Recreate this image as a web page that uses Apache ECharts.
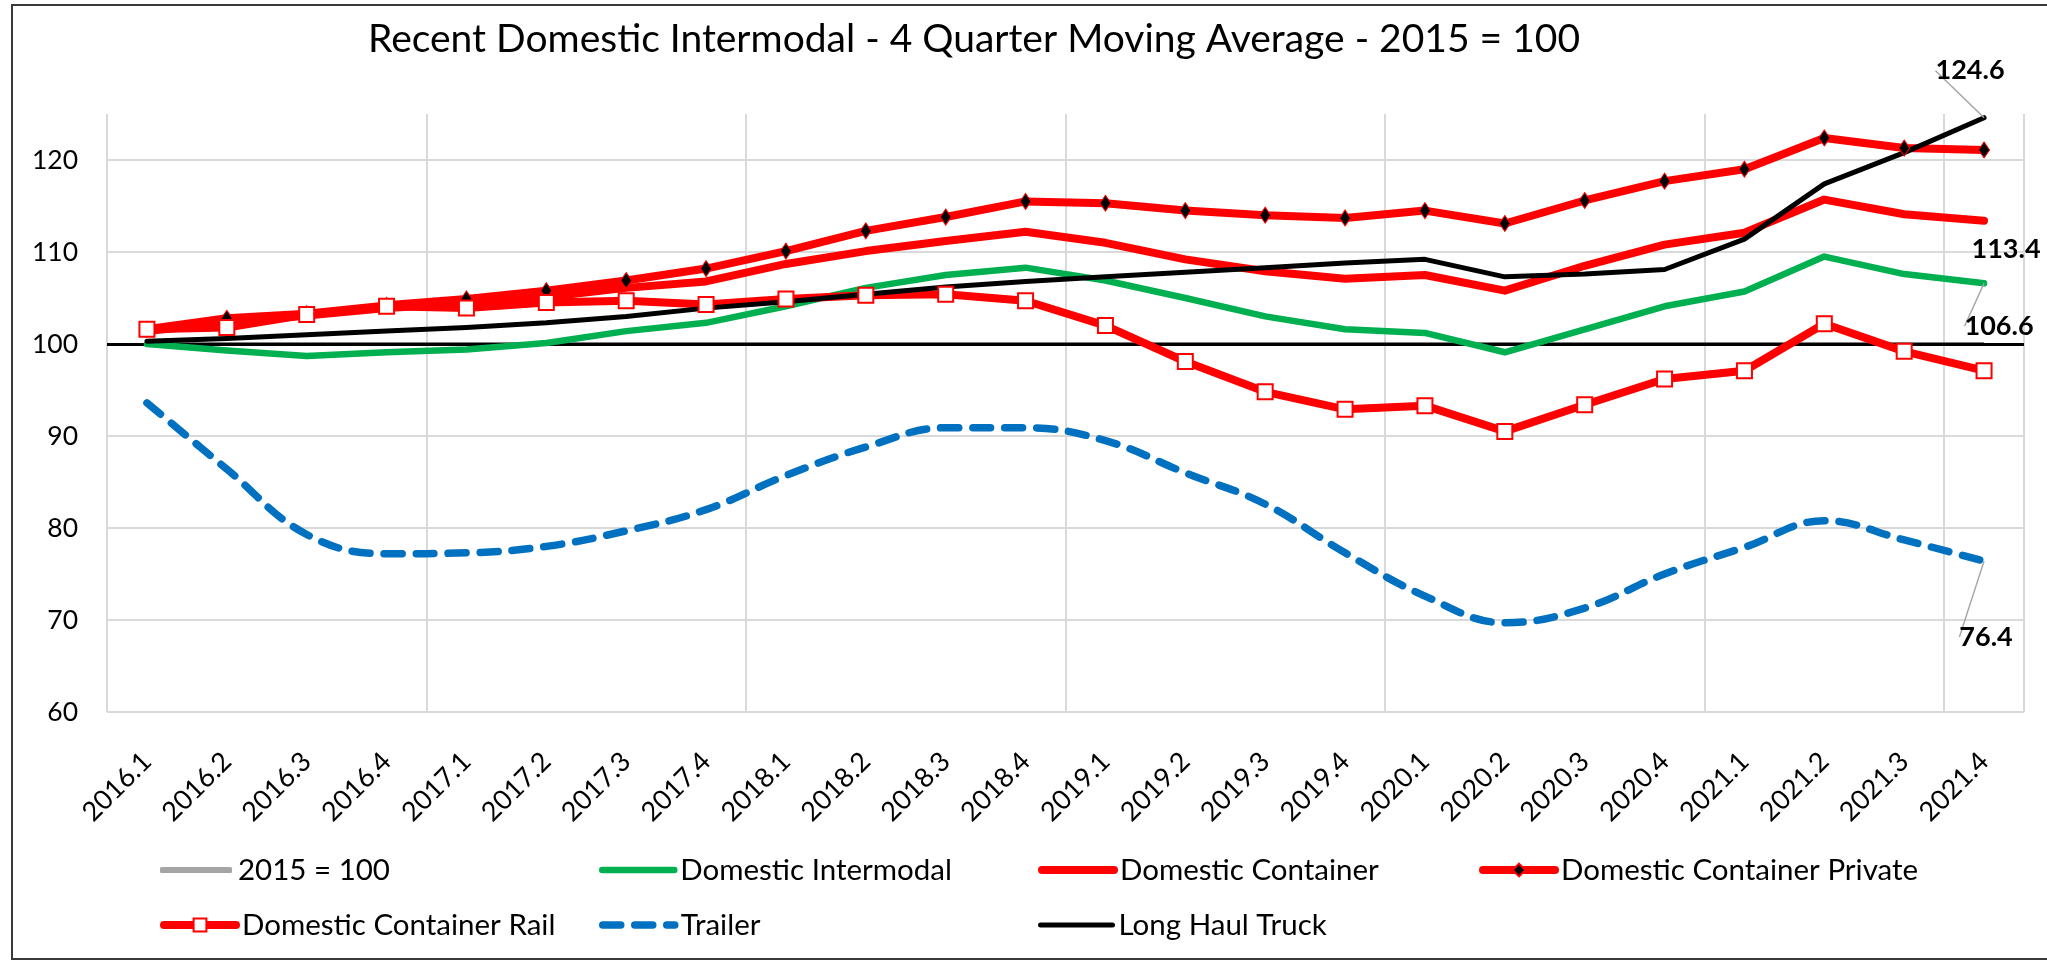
<!DOCTYPE html>
<html>
<head>
<meta charset="UTF-8">
<title>Recent Domestic Intermodal</title>
<script src="https://cdn.jsdelivr.net/npm/echarts@6/dist/echarts.min.js"></script>
<style>
  * { padding: 0; margin: 0; }
  body { background: #fff; }
  #main { width: 2047px; height: 961px; }
</style>
</head>
<body>
<div id="main"></div>
<script>
var quarters = ['2016.1', '2016.2', '2016.3', '2016.4', '2017.1', '2017.2', '2017.3', '2017.4',
  '2018.1', '2018.2', '2018.3', '2018.4', '2019.1', '2019.2', '2019.3', '2019.4',
  '2020.1', '2020.2', '2020.3', '2020.4', '2021.1', '2021.2', '2021.3', '2021.4'];

var base2015 = [100, 100, 100, 100, 100, 100, 100, 100, 100, 100, 100, 100,
  100, 100, 100, 100, 100, 100, 100, 100, 100, 100, 100, 100];
var intermodal = [100.0, 99.3, 98.7, 99.1, 99.4, 100.1, 101.4, 102.3, 104.1, 106.1, 107.5, 108.3,
  106.9, 105.0, 103.0, 101.6, 101.2, 99.1, 101.6, 104.1, 105.7, 109.5, 107.6, 106.6];
var container = [101.4, 102.3, 103.1, 103.9, 104.4, 105.1, 106.1, 106.8, 108.7, 110.1, 111.2, 112.2,
  111.0, 109.2, 107.9, 107.1, 107.5, 105.8, 108.5, 110.8, 112.1, 115.7, 114.1, 113.4];
var containerPrivate = [101.6, 102.8, 103.3, 104.2, 104.9, 105.8, 106.9, 108.2, 110.1, 112.3, 113.8, 115.5,
  115.3, 114.5, 114.0, 113.7, 114.5, 113.1, 115.6, 117.7, 119.0, 122.4, 121.3, 121.1];
var containerRail = [101.6, 101.8, 103.2, 104.1, 103.9, 104.5, 104.7, 104.3, 104.9, 105.3, 105.4, 104.7,
  102.0, 98.1, 94.8, 92.9, 93.3, 90.5, 93.4, 96.2, 97.1, 102.2, 99.2, 97.1];
var trailer = [93.6, 86.4, 79.3, 77.2, 77.3, 78.0, 79.7, 82.0, 85.7, 88.8, 90.9, 90.9,
  89.5, 86.0, 82.6, 77.3, 72.6, 69.7, 71.3, 75.0, 77.9, 80.8, 78.7, 76.4];
var longHaulTruck = [100.3, 100.6, 101.0, 101.4, 101.8, 102.3, 103.0, 103.9, 104.6, 105.4, 106.2, 106.8,
  107.3, 107.8, 108.3, 108.8, 109.2, 107.3, 107.6, 108.1, 111.4, 117.4, 120.8, 124.6];

var FONT = 'Lato, sans-serif';

// only the last point gets a visible label
function withEndLabel(values) {
  return values.map(function (v, i) {
    if (i < values.length - 1) return v;
    return {
      value: v,
      symbol: 'circle',
      symbolSize: 0,
      label: {
        show: true, position: 'inside', color: '#000',
        fontFamily: FONT, fontWeight: 'bold', fontSize: 27
      }
    };
  });
}

var leader = { show: true, lineStyle: { color: '#a6a6a6', width: 1.5 } };

var series = [
  {
    name: '2015 = 100', type: 'line', data: base2015, symbol: 'none',
    lineStyle: { color: '#000', width: 3 }, itemStyle: { color: '#a5a5a5' },
    markLine: {
      silent: true, symbol: ['none', 'none'], z: 1,
      label: { show: false },
      lineStyle: { color: '#000', width: 3, type: 'solid' },
      data: [{ yAxis: base2015[0] }]
    }
  },
  {
    name: 'Domestic Intermodal', type: 'line', data: withEndLabel(intermodal),
    symbol: 'none', showSymbol: true, showAllSymbol: true,
    lineStyle: { color: '#00b050', width: 6.5, cap: 'round', join: 'round' },
    itemStyle: { color: '#00b050' },
    labelLayout: { dx: 15, dy: 43 }, labelLine: leader
  },
  {
    name: 'Domestic Container', type: 'line', data: withEndLabel(container),
    symbol: 'none', showSymbol: true, showAllSymbol: true,
    lineStyle: { color: '#ff0000', width: 8, cap: 'round', join: 'round' },
    itemStyle: { color: '#ff0000' },
    labelLayout: { dx: 22, dy: 29 }
  },
  {
    name: 'Domestic Container Private', type: 'line', data: containerPrivate,
    symbol: 'diamond', symbolSize: [11, 16], showAllSymbol: true,
    lineStyle: { color: '#ff0000', width: 8, cap: 'round', join: 'round' },
    itemStyle: { color: '#000', borderColor: '#ff0000', borderWidth: 1 }
  },
  {
    name: 'Domestic Container Rail', type: 'line', data: containerRail,
    symbol: 'rect', symbolSize: 15, showAllSymbol: true,
    lineStyle: { color: '#ff0000', width: 8, cap: 'round', join: 'round' },
    itemStyle: { color: '#fff', borderColor: '#ff0000', borderWidth: 2 }
  },
  {
    name: 'Trailer', type: 'line', data: withEndLabel(trailer), smooth: 0.4,
    symbol: 'none', showSymbol: true, showAllSymbol: true,
    lineStyle: { color: '#0070c0', width: 7.5, type: [18, 14], cap: 'round', join: 'round' },
    itemStyle: { color: '#0070c0' },
    labelLayout: { dx: 2, dy: 76 }, labelLine: leader
  },
  {
    name: 'Long Haul Truck', type: 'line', data: withEndLabel(longHaulTruck),
    symbol: 'none', showSymbol: true, showAllSymbol: true,
    lineStyle: { color: '#000', width: 5, cap: 'round', join: 'round' },
    itemStyle: { color: '#000' },
    labelLayout: { dx: -14, dy: -47 }, labelLine: leader
  }
];

// legend laid out as a 4-column grid
var legendSpots = [[160, 855], [599, 855], [1038, 855], [1479, 855], [160, 910], [599, 910], [1038, 910]];
var withMarker = { 'Domestic Container Private': true, 'Domestic Container Rail': true };
var legends = series.map(function (s, k) {
  var item = { name: s.name };
  var h = 16;
  if (s.name === '2015 = 100') {
    // grey bar for the reference series
    h = 6;
    item.icon = 'roundRect';
    item.itemStyle = { color: '#a5a5a5', borderWidth: 0 };
  } else {
    item.lineStyle = { width: s.lineStyle.width };
    if (!withMarker[s.name]) item.itemStyle = { opacity: 0 };
  }
  return {
    data: [item], left: legendSpots[k][0], top: legendSpots[k][1],
    orient: 'horizontal', padding: 0, itemWidth: 72, itemHeight: h,
    selectedMode: false,
    textStyle: { fontFamily: FONT, fontSize: 29.5, color: '#000', padding: [0, 0, 0, 1] }
  };
});

var chart = echarts.init(document.getElementById('main'));
chart.setOption({
  animation: false,
  backgroundColor: '#fff',
  title: {
    text: 'Recent Domestic Intermodal - 4 Quarter Moving Average - 2015 = 100',
    left: 368, top: 20, padding: 0,
    textStyle: { fontFamily: FONT, fontSize: 39, fontWeight: 'normal', color: '#000' }
  },
  graphic: [{
    type: 'rect', silent: true, z: -10,
    shape: { x: 12, y: 5, width: 2100, height: 954 },
    style: { fill: 'none', stroke: '#3a3a3a', lineWidth: 2 }
  }],
  legend: legends,
  grid: { left: 107, right: 23, top: 114, bottom: 249, containLabel: false, outerBoundsMode: 'none' },
  xAxis: {
    type: 'category', data: quarters, boundaryGap: true,
    axisLine: { show: false }, axisTick: { show: false },
    splitLine: { show: true, interval: 3, lineStyle: { color: '#d9d9d9', width: 2 } },
    axisLabel: { interval: 0, rotate: 45, margin: 45, color: '#000', fontFamily: FONT, fontSize: 27 }
  },
  yAxis: {
    type: 'value', min: 60, max: 125, interval: 10,
    axisLine: { show: false }, axisTick: { show: false },
    splitLine: { show: true, showMaxLine: false, lineStyle: { color: '#d9d9d9', width: 2 } },
    axisLabel: { showMaxLabel: false, margin: 29, color: '#000', fontFamily: FONT, fontSize: 26.5 }
  },
  series: series
});
</script>
</body>
</html>
